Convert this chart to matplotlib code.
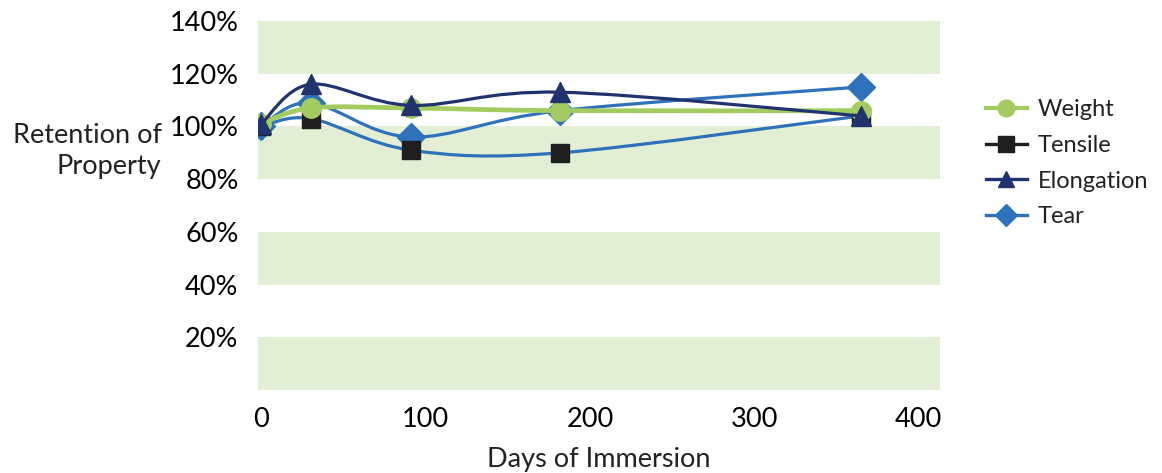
import matplotlib.pyplot as plt
import numpy as np
from matplotlib.path import Path
from matplotlib.patches import PathPatch
from matplotlib.lines import Line2D


plt.rcParams["font.family"] = ["Lato", "DejaVu Sans"]
plt.rcParams["font.size"  ] = 19.5
plt.rcParams["text.color" ] = "#222222"

# days of immersion and retention (%) per property
days       = [0, 30, 91, 182, 365]
weight     = [101, 107, 107, 106, 106]
tensile    = [100, 103, 91, 90, 104]
elongation = [101, 116, 108, 113, 104]
tear       = [100, 109, 96, 106, 115]

series_names = ["Weight", "Tensile", "Elongation", "Tear"]
y_ticks      = [20, 40, 60, 80, 100, 120, 140]
x_ticks      = [0, 100, 200, 300, 400]

GREEN = "#a2cc5f"
BLACK = "#1e1e1e"
NAVY  = "#21336f"
BLUE  = "#2e72bb"
BAND  = "#e2efd4"


def smooth_path(x, y):
    # Catmull-Rom style bezier, like a spreadsheet "smoothed line"
    pts = np.column_stack([x, y]).astype(float)
    verts = [pts[0]]
    codes = [Path.MOVETO]
    n = len(pts)
    for i in range(n - 1):
        p0 = pts[max(i - 1, 0)]
        p1 = pts[i]
        p2 = pts[i + 1]
        p3 = pts[min(i + 2, n - 1)]
        c1 = p1 + (p2 - p0) / 6.0
        c2 = p2 - (p3 - p1) / 6.0
        verts += [c1, c2, p2]
        codes += [Path.CURVE4] * 3
    return Path(verts, codes)


def main():
    fig = plt.figure(figsize=(11.62, 4.73), dpi=100)
    ax = fig.add_axes([0.222, 0.1755, 0.587, 0.780])

    for lo in (0, 40, 80, 120):
        ax.axhspan(lo, lo + 20, color=BAND, lw=0, zorder=0)

    styles = [
        (tear,       BLUE,  BLUE,  "D", 14, 2.3, 2),
        (tensile,    BLUE,  BLACK, "s", 13, 2.3, 3),
        (weight,     GREEN, GREEN, "o", 14, 3.4, 4),
        (elongation, NAVY,  NAVY,  "^", 14, 2.3, 5),
    ]
    for vals, lc, mc, mk, ms, lw, z in styles:
        ax.add_patch(PathPatch(smooth_path(days, vals), fill=False,
                               edgecolor=lc, lw=lw, zorder=z))
        ax.plot(days, vals, ls="none", marker=mk, ms=ms, color=mc,
                mec=mc, zorder=z + 0.5)

    ax.set_xlim(-2, 413)
    ax.set_ylim(0, 140)
    ax.set_xticks(x_ticks)
    ax.set_yticks(y_ticks)
    ax.set_yticklabels([f"{v}%" for v in y_ticks])
    ax.tick_params(length=0, pad=14)
    ax.tick_params(axis="x", pad=12)
    for s in ax.spines.values():
        s.set_visible(False)

    fig.text(0.515, 0.028, "Days of Immersion", ha="center", va="center")
    fig.text(0.139, 0.68, "Retention of\nProperty", ha="right", va="center",
             multialignment="right", linespacing=1.3)

    handles = [
        Line2D([], [], color=GREEN, marker="o", ms=12, lw=3.0),
        Line2D([], [], color=BLACK, marker="s", ms=11, lw=2.4),
        Line2D([], [], color=NAVY,  marker="^", ms=12, lw=2.4),
        Line2D([], [], color=BLUE,  marker="D", ms=11, lw=2.4),
    ]
    fig.legend(handles, series_names, loc="center left",
               bbox_to_anchor=(0.83, 0.655), frameon=False, fontsize=17,
               handlelength=1.75, handletextpad=0.45, labelspacing=0.62)

    fig.savefig("out.png", dpi=100)


if __name__ == "__main__":
    main()
